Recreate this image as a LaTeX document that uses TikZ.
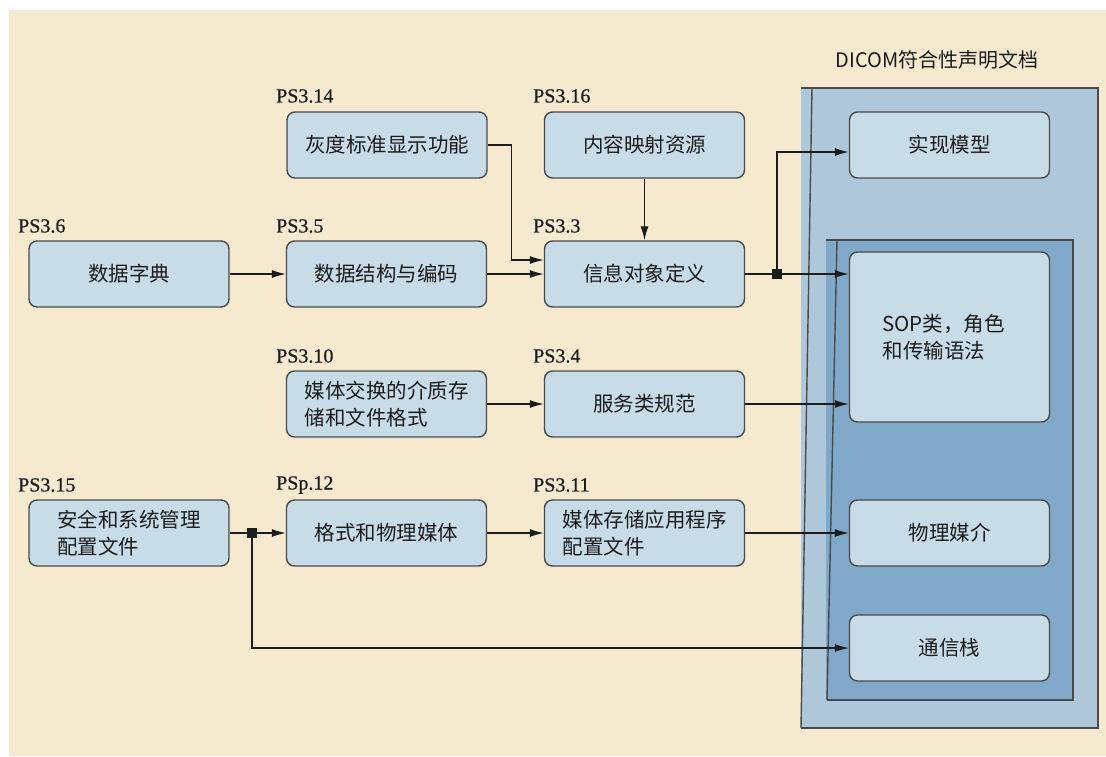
\documentclass[tikz,border=0pt]{standalone}
\usepackage{fontspec}
\setmainfont{Noto Sans CJK SC}
\newfontfamily\psfont[FakeBold=0.6]{Liberation Serif}
\usetikzlibrary{arrows.meta,calc}

\definecolor{paper}{HTML}{F5EAD0}
\definecolor{boxfill}{HTML}{C8DCE8}
\definecolor{outerblue}{HTML}{AFC8D9}
\definecolor{innerblue}{HTML}{80A8C9}
\definecolor{edge}{HTML}{4A4A4A}
\definecolor{ink}{HTML}{1C1C1C}

\begin{document}
\begin{tikzpicture}[x=1pt, y=-1pt,
    box/.style={draw=edge, fill=boxfill, rounded corners=8pt, line width=1.4pt,
        minimum width=200pt, minimum height=66pt, align=left, text=ink,
        font=\fontsize{20.5}{27}\selectfont},
    ps/.style={anchor=west, inner sep=0pt, text=ink, font=\psfont\fontsize{20}{24}\selectfont},
    conn/.style={-{Latex[length=14pt,width=8pt]}, line width=1.2pt, draw=ink},
    wire/.style={line width=1.2pt, draw=ink},
    junction/.style={fill=ink, minimum size=10pt, inner sep=0pt},
    frame/.style={line width=1.4pt, draw=edge}]

    % page
    \fill[white] (0,0) rectangle (1106,756);
    \fill[paper] (9,10) rectangle (1106,756);

    % conformance statement containers
    \node[text=ink, font=\fontsize{20}{24}\selectfont] (title) at (937,60) {DICOM符合性声明文档};
    \fill[outerblue] (801,88) rectangle (1098,728);
    \draw[frame] (801,88) -- (1098,88) -- (1098,728) -- (801,728);
    \draw[frame] (812,88) -- (801,728);
    \fill[innerblue] (826,240) rectangle (1073,700);
    \draw[frame] (826,240) -- (1073,240) -- (1073,700) -- (827,700);
    \draw[frame] (837,240) -- (827,700);

    % parts of the standard
    \node[box] (ps14) at (387,145) {灰度标准显示功能};
    \node[ps] at (276,96) {PS3.14};

    \node[box] (ps16) at (644.5,145) {内容映射资源};
    \node[ps] at (533,96) {PS3.16};

    \node[box] (ps6) at (129,274) {数据字典};
    \node[ps] at (18,226) {PS3.6};

    \node[box] (ps5) at (386.5,274) {数据结构与编码};
    \node[ps] at (276,226) {PS3.5};

    \node[box] (ps3) at (644.5,274) {信息对象定义};
    \node[ps] at (533,226) {PS3.3};

    \node[box] (ps10) at (386.5,404) {媒体交换的介质存\\储和文件格式};
    \node[ps] at (276,356) {PS3.10};

    \node[box] (ps4) at (644.5,404) {服务类规范};
    \node[ps] at (533,356) {PS3.4};

    \node[box] (ps15) at (129,533) {安全和系统管理\\配置文件};
    \node[ps] at (18,485) {PS3.15};

    \node[box] (ps12) at (386.5,533) {格式和物理媒体};
    \node[ps] at (276,485) {PSp.12};

    \node[box] (ps11) at (644.5,533) {媒体存储应用程序\\配置文件};
    \node[ps] at (533,485) {PS3.11};

    % statement sections
    \node[box] (impl) at (949.5,145) {实现模型};
    \node[box, minimum height=170pt, text width=134pt] (sop) at (949.5,337) {SOP类，角色\\和传输语法};
    \node[box] (phys) at (949.5,533) {物理媒介};
    \node[box] (comm) at (949.5,648) {通信栈};

    \node[junction] (j1) at (777,274) {};
    \node[junction] (j2) at (252,533) {};

    % connectors
    \draw[conn] (ps6) -- (ps5);
    \draw[conn] (ps5) -- (ps3);
    \draw[conn] (ps14.east) -- ++(24,0) |- ([yshift=14pt]ps3.west);
    \draw[conn] (ps16) -- (ps3);
    \draw[wire] (ps3.east) -- (j1);
    \draw[conn] (j1.center) -- (sop.west |- j1);
    \draw[conn] (j1.center) |- ([yshift=-7pt]impl.west);
    \draw[conn] (ps10) -- (ps4);
    \draw[conn] (ps4.east) -- (sop.west |- ps4);
    \draw[wire] (ps15.east) -- (j2);
    \draw[conn] (j2.center) -- (ps12);
    \draw[conn] (j2.center) |- (comm.west);
    \draw[conn] (ps12) -- (ps11);
    \draw[conn] (ps11) -- (phys);
\end{tikzpicture}
\end{document}
